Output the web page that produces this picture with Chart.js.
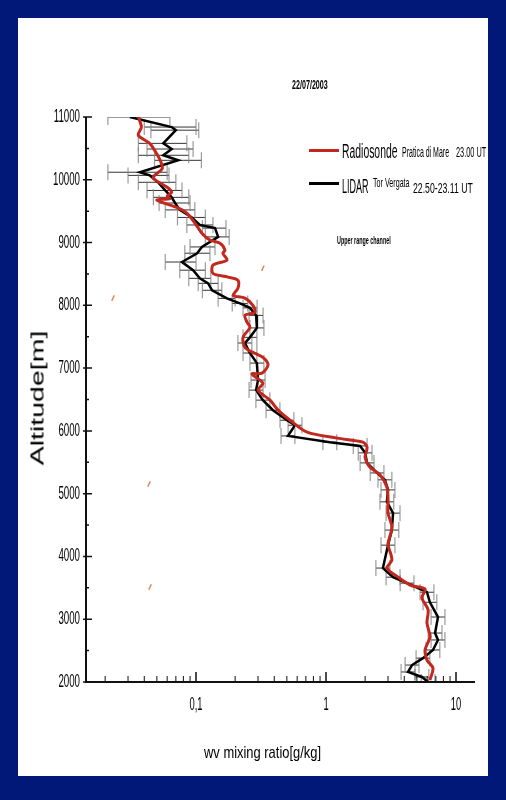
<!DOCTYPE html>
<html>
<head>
<meta charset="utf-8">
<script src="https://cdn.jsdelivr.net/npm/chart.js@4"></script>
<style>
    body { margin: 0; width: 506px; height: 800px; background: #011878; position: relative; overflow: hidden; font-family: "Liberation Sans", Arial, sans-serif; }
    #panel { position: absolute; left: 18px; top: 18px; width: 470px; height: 758px; background: #fff; }
    #chart { position: absolute; left: 0; top: 0; }
    .txt { position: absolute; white-space: nowrap; transform-origin: 0 0; color: #000; line-height: 1; }
    .sample { position: absolute; width: 30px; height: 3px; }
</style>
</head>
<body>
<div id="panel"></div>
<canvas id="chart" width="506" height="800"></canvas>

<div class="txt" style="left:292px;top:78px;font-size:13px;font-weight:bold;transform:scaleX(0.55)">22/07/2003</div>

<div class="sample" style="left:309px;top:149px;background:#c3281e"></div>
<div class="txt" style="left:342px;top:141px;font-size:20px;transform:scaleX(0.52)">Radiosonde</div>
<div class="txt" style="left:402px;top:145px;font-size:14px;transform:scaleX(0.5)">Pratica di Mare</div>
<div class="txt" style="left:456px;top:144px;font-size:15px;transform:scaleX(0.49)">23.00 UT</div>

<div class="sample" style="left:309px;top:182px;background:#000"></div>
<div class="txt" style="left:342px;top:176px;font-size:20px;transform:scaleX(0.45)">LIDAR</div>
<div class="txt" style="left:373px;top:176px;font-size:13px;transform:scaleX(0.55)">Tor Vergata</div>
<div class="txt" style="left:413px;top:180px;font-size:15px;transform:scaleX(0.58)">22.50-23.11 UT</div>

<div class="txt" style="left:337px;top:236px;font-size:10px;font-weight:bold;transform:scaleX(0.54)">Upper range channel</div>

<div class="txt" style="left:204px;top:744px;font-size:17px;transform:scaleX(0.76)">wv mixing ratio[g/kg]</div>
<div class="txt" style="left:37px;top:398px;font-size:19px;transform-origin:50% 50%;transform:translate(-50%,-50%) rotate(-90deg) scaleX(1.5)">Altitude[m]</div>

<script>
// Radiosonde Pratica di Mare (altitude m, wv mixing ratio g/kg)
const rsAlt = [11000, 10840, 10710, 10580, 10470, 10310, 10180, 10070, 10020, 9880,
    9800, 9740, 9700, 9675, 9560, 9470, 9310, 9150, 9040, 8990,
    8880, 8830, 8720, 8640, 8510, 8450, 8400, 8270, 8160, 8115,
    8000, 7890, 7840, 7730, 7650, 7490, 7330, 7250, 7170, 7050,
    6920, 6905, 6760, 6650, 6490, 6330, 6170, 5980, 5885, 5820,
    5740, 5580, 5420, 5300, 5105, 4900, 4690, 4470, 4210, 4150,
    3940, 3815, 3670, 3545, 3480, 3340, 3150, 2940, 2720, 2510,
    2350, 2220, 2030];
const rsWv = [0.036, 0.038, 0.036, 0.044, 0.048, 0.053, 0.055, 0.048, 0.047, 0.060,
    0.065, 0.060, 0.063, 0.050, 0.071, 0.085, 0.098, 0.111, 0.128, 0.153,
    0.167, 0.161, 0.173, 0.135, 0.135, 0.176, 0.210, 0.210, 0.193, 0.238,
    0.274, 0.284, 0.238, 0.247, 0.260, 0.230, 0.238, 0.274, 0.327, 0.358,
    0.322, 0.270, 0.327, 0.300, 0.371, 0.428, 0.529, 0.715, 1.22, 1.92,
    2.07, 2.0, 2.18, 2.60, 2.94, 3.0, 3.0, 3.21, 3.0, 3.03,
    3.21, 2.94, 3.58, 4.43, 5.78, 5.47, 6.1, 5.98, 6.3, 5.78,
    5.98, 6.65, 6.3];

// LIDAR Tor Vergata, with lower / upper error values
const lidarAlt = [11000, 10840, 10790, 10580, 10490, 10390, 10310, 10120, 10070, 9960,
    9830, 9720, 9630, 9520, 9400, 9280, 9230, 9090, 8930, 8830,
    8690, 8560, 8430, 8350, 8240, 8110, 8030, 7960, 7840, 7640,
    7490, 7400, 7240, 7080, 6810, 6650, 6490, 6330, 6170, 6090,
    5920, 5820, 5760, 5650, 5490, 5330, 5220, 5060, 4870, 4690,
    4420, 4180, 3815, 3670, 3575, 3430, 3270, 3035, 2780, 2670,
    2510, 2380, 2270, 2160, 2080, 2000];
const lidarWv = [0.031, 0.065, 0.070, 0.056, 0.065, 0.056, 0.073, 0.037, 0.044, 0.051,
    0.058, 0.065, 0.069, 0.075, 0.093, 0.107, 0.140, 0.148, 0.111, 0.102,
    0.078, 0.095, 0.107, 0.124, 0.133, 0.173, 0.218, 0.260, 0.290, 0.294,
    0.260, 0.238, 0.260, 0.294, 0.300, 0.290, 0.327, 0.391, 0.501, 0.578,
    0.510, 1.07, 1.83, 2.0, 2.07, 2.47, 2.84, 3.0, 2.94, 3.28,
    3.21, 3.0, 2.74, 3.28, 4.2, 5.98, 6.3, 7.27, 6.9, 7.27,
    6.65, 5.57, 4.59, 4.27, 5.47, 6.1];
const lidarLo = [0.021, 0.040, 0.045, 0.036, 0.042, 0.036, 0.048, 0.021, 0.030, 0.036,
    0.042, 0.047, 0.052, 0.058, 0.072, 0.085, 0.112, 0.118, 0.090, 0.082,
    0.058, 0.075, 0.088, 0.104, 0.112, 0.148, 0.190, 0.230, 0.256, 0.260,
    0.230, 0.210, 0.230, 0.260, 0.265, 0.256, 0.289, 0.346, 0.443, 0.511,
    0.451, 0.946, 1.62, 1.77, 1.83, 2.19, 2.51, 2.65, 2.60, 2.90,
    2.84, 2.65, 2.42, 2.90, 3.72, 5.29, 5.58, 6.43, 6.11, 6.43,
    5.88, 4.93, 4.06, 3.78, 4.84, 5.40];
const lidarHi = [0.063, 0.100, 0.105, 0.085, 0.095, 0.088, 0.110, 0.060, 0.062, 0.070,
    0.078, 0.088, 0.090, 0.098, 0.118, 0.135, 0.170, 0.180, 0.140, 0.128,
    0.100, 0.118, 0.130, 0.148, 0.158, 0.200, 0.250, 0.295, 0.328, 0.333,
    0.294, 0.269, 0.294, 0.333, 0.340, 0.328, 0.370, 0.442, 0.566, 0.653,
    0.576, 1.21, 2.07, 2.26, 2.34, 2.79, 3.21, 3.39, 3.32, 3.71,
    3.63, 3.39, 3.10, 3.71, 4.75, 6.76, 7.12, 8.22, 7.80, 8.22,
    7.51, 6.29, 5.19, 4.83, 6.18, 6.89];

// small stray marks on the scan
const markWv = [0.327, 0.023, 0.0435, 0.0443];
const markAlt = [8592, 8115, 5153, 3513];

// axes
const yTicks = [2000, 3000, 4000, 5000, 6000, 7000, 8000, 9000, 10000, 11000];
const yMinorTicks = [2500, 3500, 4500, 5500, 6500, 7500, 8500, 9500, 10500];
const xTicks = [0.1, 1, 10];
const xTickLabels = ["0,1", "1", "10"];
const xMinorTicks = [0.02, 0.03, 0.04, 0.05, 0.06, 0.07, 0.08, 0.09,
    0.2, 0.3, 0.4, 0.5, 0.6, 0.7, 0.8, 0.9,
    2, 3, 4, 5, 6, 7, 8, 9];


const toPoints = (xs, ys) => xs.map((v, i) => ({ x: v, y: ys[i] }));

function errorBars() {
    const pts = [];
    lidarAlt.forEach((a, i) => {
        pts.push({ x: lidarLo[i], y: a }, { x: lidarHi[i], y: a }, { x: null, y: null });
    });
    return pts;
}

function errorCaps() {
    const pts = [];
    lidarAlt.forEach((a, i) => {
        pts.push({ x: lidarLo[i], y: a }, { x: lidarHi[i], y: a });
    });
    return pts;
}

// text squeezed horizontally like the scanned figure
function squeezed(ctx, text, x, y, sx, align) {
    ctx.save();
    ctx.translate(x, y);
    ctx.scale(sx, 1);
    ctx.textAlign = align;
    ctx.fillText(text, 0, 0);
    ctx.restore();
}

const axesPlugin = {
    id: "axes",
    afterDraw(chart) {
        const { ctx, chartArea: a, scales: { x, y } } = chart;
        ctx.save();
        ctx.strokeStyle = "#111";
        ctx.lineWidth = 2;
        ctx.beginPath();
        ctx.moveTo(a.left, a.top);
        ctx.lineTo(a.left, a.bottom);
        ctx.lineTo(a.right, a.bottom);
        ctx.stroke();

        ctx.lineWidth = 1.5;
        ctx.beginPath();
        yTicks.forEach(v => {
            const py = y.getPixelForValue(v);
            ctx.moveTo(a.left - 3, py);
            ctx.lineTo(a.left + 6, py);
        });
        yMinorTicks.forEach(v => {
            const py = y.getPixelForValue(v);
            ctx.moveTo(a.left, py);
            ctx.lineTo(a.left + 3, py);
        });
        xTicks.forEach(v => {
            const px = x.getPixelForValue(v);
            ctx.moveTo(px, a.bottom);
            ctx.lineTo(px, a.bottom - 10);
        });
        ctx.stroke();
        ctx.lineWidth = 1;
        ctx.beginPath();
        xMinorTicks.forEach(v => {
            const px = x.getPixelForValue(v);
            ctx.moveTo(px, a.bottom);
            ctx.lineTo(px, a.bottom - 6);
        });
        ctx.stroke();

        ctx.fillStyle = "#000";
        ctx.font = "18px 'Liberation Sans', Arial, sans-serif";
        ctx.textBaseline = "middle";
        yTicks.forEach(v => {
            squeezed(ctx, String(v), 80, y.getPixelForValue(v), 0.54, "right");
        });
        xTicks.forEach((v, i) => {
            squeezed(ctx, xTickLabels[i], x.getPixelForValue(v), a.bottom + 23, 0.52, "center");
        });
        ctx.restore();
    }
};

new Chart(document.getElementById("chart"), {
    type: "scatter",
    data: {
        datasets: [
            {
                label: "Radiosonde",
                data: toPoints(rsWv, rsAlt),
                showLine: true,
                borderColor: "#c3281e",
                borderWidth: 3,
                tension: 0.3,
                pointRadius: 0
            },
            {
                label: "LIDAR",
                data: toPoints(lidarWv, lidarAlt),
                showLine: true,
                borderColor: "#000",
                borderWidth: 2.5,
                pointRadius: 0
            },
            {
                label: "caps",
                data: errorCaps(),
                pointStyle: "line",
                rotation: 90,
                radius: 8,
                borderWidth: 1.2,
                borderColor: "rgba(130,130,130,0.8)"
            },
            {
                label: "errors",
                data: errorBars(),
                showLine: true,
                spanGaps: false,
                borderColor: "rgba(30,30,30,0.9)",
                borderWidth: 1,
                pointRadius: 0
            },
            {
                label: "marks",
                data: toPoints(markWv, markAlt),
                pointStyle: "line",
                rotation: -65,
                radius: 3,
                borderWidth: 1.5,
                borderColor: "#e08a50"
            }
        ]
    },
    options: {
        responsive: false,
        devicePixelRatio: 1,
        animation: false,
        layout: { padding: { left: 0, top: 117, right: 31, bottom: 0 } },
        plugins: {
            legend: { display: false },
            tooltip: { enabled: false }
        },
        scales: {
            x: {
                type: "logarithmic",
                min: 0.01425,
                max: 14,
                grid: { display: false },
                border: { display: false },
                ticks: { display: false },
                afterFit(s) { s.height = 118; }
            },
            y: {
                min: 2000,
                max: 11000,
                grid: { display: false },
                border: { display: false },
                ticks: { display: false },
                afterFit(s) { s.width = 86; }
            }
        }
    },
    plugins: [axesPlugin]
});
</script>
</body>
</html>
